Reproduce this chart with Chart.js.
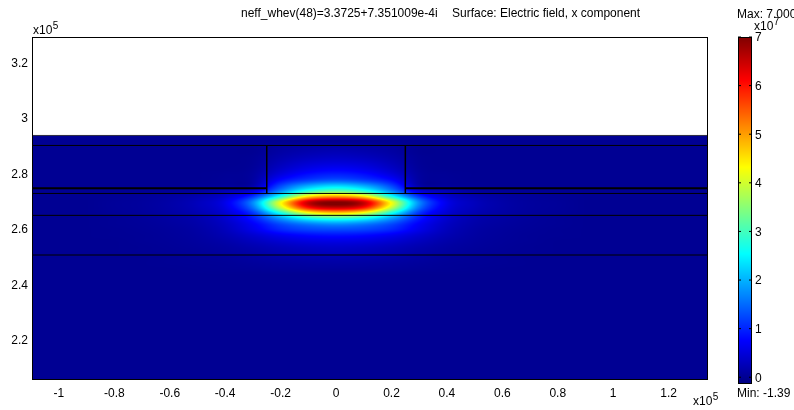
<!DOCTYPE html>
<html>
<head>
<meta charset="utf-8">
<script src="https://cdn.jsdelivr.net/npm/chart.js@4.4.0/dist/chart.umd.min.js"></script>
<style>
html, body { margin: 0; padding: 0; background: #fff; }
</style>
</head>
<body>
<canvas id="modeChart" width="794" height="410"></canvas>
<script>
// axes, in units of 1e5
var xTicks = [-1, -0.8, -0.6, -0.4, -0.2, 0, 0.2, 0.4, 0.6, 0.8, 1, 1.2];
var yTicks = [2.2, 2.4, 2.6, 2.8, 3, 3.2];
var xRange = [-1.097, 1.342];
var yRange = [2.062, 3.295];
var domainTop = 2.94;

// colour range, in units of 1e7
var colorMin = -0.139;
var colorMax = 7.0;
var colorTicks = [0, 1, 2, 3, 4, 5, 6, 7];

// geometry boundaries
var fullLinesY = [2.94, 2.904, 2.731, 2.652, 2.509];
var ridgeX = [-0.25, 0.25];
var ridgeTop = 2.904;
var ridgeBottom = 2.731;
var sideLayerY = 2.75;

// field samples (Ex / 1e7)
var fieldX = [-0.8, -0.7, -0.6, -0.5, -0.4, -0.3, -0.2, -0.1, 0, 0.1, 0.2, 0.3, 0.4, 0.5, 0.6, 0.7, 0.8];
var fieldY = [2.90, 2.88, 2.86, 2.84, 2.82, 2.80, 2.78, 2.76, 2.74, 2.72, 2.70, 2.68, 2.66, 2.64, 2.62, 2.60, 2.58, 2.56, 2.54, 2.52, 2.50, 2.48, 2.46];
var fieldRows = [
  [0, 0, 0, 0, 0, 0, 0.08, 0.12, 0.14, 0.12, 0.08, 0, 0, 0, 0, 0, 0],
  [0, 0, 0, 0, 0, 0, 0.12, 0.2, 0.24, 0.2, 0.12, 0, 0, 0, 0, 0, 0],
  [0, 0, 0, 0, 0, 0.02, 0.18, 0.3, 0.35, 0.3, 0.18, 0.02, 0, 0, 0, 0, 0],
  [0, 0, 0, 0, 0, 0.03, 0.26, 0.44, 0.5, 0.44, 0.26, 0.03, 0, 0, 0, 0, 0],
  [0, 0, 0, 0, 0, 0.05, 0.36, 0.6, 0.7, 0.6, 0.36, 0.05, 0, 0, 0, 0, 0],
  [0, 0, 0, 0, 0.02, 0.08, 0.52, 0.84, 0.96, 0.84, 0.52, 0.08, 0.02, 0, 0, 0, 0],
  [0, 0, 0, 0, 0.03, 0.1, 0.78, 1.15, 1.32, 1.15, 0.78, 0.1, 0.03, 0, 0, 0, 0],
  [0, 0, 0, 0.02, 0.05, 0.15, 1.2, 1.9, 2.2, 1.9, 1.2, 0.15, 0.05, 0.02, 0, 0, 0],
  [0.01, 0.02, 0.04, 0.08, 0.25, 0.5, 1.7, 2.8, 3.2, 2.8, 1.7, 0.5, 0.25, 0.08, 0.04, 0.02, 0.01],
  [0.02, 0.05, 0.1, 0.2, 0.42, 1.1, 2.7, 4.5, 5.0, 4.5, 2.7, 1.1, 0.42, 0.2, 0.1, 0.05, 0.02],
  [0.04, 0.07, 0.14, 0.28, 0.6, 1.7, 4.2, 6.45, 6.95, 6.45, 4.2, 1.7, 0.6, 0.28, 0.14, 0.07, 0.04],
  [0.04, 0.07, 0.14, 0.27, 0.56, 1.55, 3.9, 6.0, 6.5, 6.0, 3.9, 1.55, 0.56, 0.27, 0.14, 0.07, 0.04],
  [0.03, 0.06, 0.12, 0.22, 0.45, 1.1, 2.65, 4.1, 4.6, 4.1, 2.65, 1.1, 0.45, 0.22, 0.12, 0.06, 0.03],
  [0.02, 0.05, 0.1, 0.18, 0.4, 0.9, 1.8, 2.55, 2.8, 2.55, 1.8, 0.9, 0.4, 0.18, 0.1, 0.05, 0.02],
  [0.02, 0.04, 0.08, 0.15, 0.33, 0.7, 1.25, 1.6, 1.75, 1.6, 1.25, 0.7, 0.33, 0.15, 0.08, 0.04, 0.02],
  [0.01, 0.03, 0.06, 0.12, 0.28, 0.6, 1.0, 1.2, 1.25, 1.2, 1.0, 0.6, 0.28, 0.12, 0.06, 0.03, 0.01],
  [0.01, 0.02, 0.05, 0.1, 0.22, 0.42, 0.65, 0.8, 0.85, 0.8, 0.65, 0.42, 0.22, 0.1, 0.05, 0.02, 0.01],
  [0, 0.02, 0.04, 0.08, 0.16, 0.3, 0.45, 0.55, 0.58, 0.55, 0.45, 0.3, 0.16, 0.08, 0.04, 0.02, 0],
  [0, 0.01, 0.03, 0.06, 0.11, 0.2, 0.3, 0.37, 0.4, 0.37, 0.3, 0.2, 0.11, 0.06, 0.03, 0.01, 0],
  [0, 0.01, 0.02, 0.04, 0.08, 0.14, 0.22, 0.27, 0.3, 0.27, 0.22, 0.14, 0.08, 0.04, 0.02, 0.01, 0],
  [0, 0, 0.01, 0.03, 0.05, 0.1, 0.15, 0.18, 0.2, 0.18, 0.15, 0.1, 0.05, 0.03, 0.01, 0, 0],
  [0, 0, 0.01, 0.02, 0.03, 0.06, 0.09, 0.11, 0.12, 0.11, 0.09, 0.06, 0.03, 0.02, 0.01, 0, 0],
  [0, 0, 0, 0.01, 0.02, 0.03, 0.05, 0.06, 0.06, 0.06, 0.05, 0.03, 0.02, 0.01, 0, 0, 0]
];

var FONT = "'Liberation Sans', Arial, sans-serif";

function jet(t) {
  t = Math.max(0, Math.min(1, t));
  function c(v) { return Math.round(255 * Math.max(0, Math.min(1, v))); }
  return [c(1.5 - Math.abs(4 * t - 3)), c(1.5 - Math.abs(4 * t - 2)), c(1.5 - Math.abs(4 * t - 1))];
}

function sample(i, j) {
  if (j < 0 || j >= fieldY.length || i < 0 || i >= fieldX.length) return 0;
  return fieldRows[j][i];
}
function cr(p0, p1, p2, p3, t) {
  return 0.5 * (2 * p1 + (-p0 + p2) * t + (2 * p0 - 5 * p1 + 4 * p2 - p3) * t * t + (-p0 + 3 * p1 - 3 * p2 + p3) * t * t * t);
}
function fieldAt(x, y) {
  var dx = fieldX[1] - fieldX[0], dy = fieldY[1] - fieldY[0];
  var u = (x - fieldX[0]) / dx, w = (y - fieldY[0]) / dy;
  if (u < -1 || u > fieldX.length || w < -1 || w > fieldY.length) return 0;
  var i = Math.floor(u), j = Math.floor(w), tu = u - i, tw = w - j;
  var r = [];
  for (var m = -1; m <= 2; m++) {
    r.push(cr(sample(i - 1, j + m), sample(i, j + m), sample(i + 1, j + m), sample(i + 2, j + m), tu));
  }
  return cr(r[0], r[1], r[2], r[3], tw);
}

var fieldPlugin = {
  id: 'field',
  beforeDatasetsDraw: function(chart) {
    var ctx = chart.ctx, xs = chart.scales.x, ys = chart.scales.y;
    var left = Math.round(xs.getPixelForValue(xRange[0]));
    var right = Math.round(xs.getPixelForValue(xRange[1]));
    var top = Math.round(ys.getPixelForValue(domainTop));
    var bottom = Math.round(ys.getPixelForValue(yRange[0]));
    var w = right - left, h = bottom - top;
    var off = document.createElement('canvas');
    off.width = w; off.height = h;
    var octx = off.getContext('2d');
    var img = octx.createImageData(w, h);
    for (var py = 0; py < h; py++) {
      var yv = ys.getValueForPixel(top + py + 0.5);
      for (var px = 0; px < w; px++) {
        var xv = xs.getValueForPixel(left + px + 0.5);
        var v = fieldAt(xv, yv);
        var c = jet((v - colorMin) / (colorMax - colorMin));
        var k = (py * w + px) * 4;
        img.data[k] = c[0]; img.data[k + 1] = c[1]; img.data[k + 2] = c[2]; img.data[k + 3] = 255;
      }
    }
    octx.putImageData(img, 0, 0);
    ctx.drawImage(off, left, top);
  }
};

function drawSup(ctx, base, sup, x, y) {
  ctx.font = '12px ' + FONT;
  ctx.fillText(base, x, y);
  var bw = ctx.measureText(base).width;
  ctx.font = '10px ' + FONT;
  ctx.fillText(sup, x + bw + 0.5, y - 5);
}

var decorPlugin = {
  id: 'decor',
  afterDraw: function(chart) {
    var ctx = chart.ctx, ca = chart.chartArea;
    ctx.save();
    // frame
    ctx.strokeStyle = '#000';
    ctx.lineWidth = 1;
    ctx.strokeRect(ca.left + 0.5, ca.top + 0.5, ca.right - ca.left - 1, ca.bottom - ca.top);

    // colour bar
    var cbL = 738, cbW = 14, cbT = 37, cbB = 384, cbH = cbB - cbT;
    for (var py = 0; py < cbH; py++) {
      var v = colorMax - (py + 0.5) / cbH * (colorMax - colorMin);
      var c = jet((v - colorMin) / (colorMax - colorMin));
      ctx.fillStyle = 'rgb(' + c[0] + ',' + c[1] + ',' + c[2] + ')';
      ctx.fillRect(cbL, cbT + py, cbW, 1);
    }
    ctx.strokeRect(cbL + 0.5, cbT + 0.5, cbW - 1, cbH - 1);
    ctx.fillStyle = '#000';
    ctx.font = '12px ' + FONT;
    ctx.textAlign = 'left';
    ctx.textBaseline = 'middle';
    colorTicks.forEach(function(t) {
      var y = cbB - (t - colorMin) / (colorMax - colorMin) * cbH;
      ctx.beginPath();
      ctx.moveTo(cbL, y); ctx.lineTo(cbL + 3, y);
      ctx.moveTo(cbL + cbW, y); ctx.lineTo(cbL + cbW - 3, y);
      ctx.stroke();
      ctx.fillText(String(t), 755, y + 1);
    });

    // texts
    ctx.textBaseline = 'alphabetic';
    ctx.font = '12px ' + FONT;
    ctx.fillText('neff_whev(48)=3.3725+7.351009e-4i', 241, 17);
    ctx.fillText('Surface: Electric field, x component', 452, 17);
    ctx.fillText('Max: 7.000', 737, 18);
    ctx.fillText('Min: -1.39', 737, 397);
    drawSup(ctx, 'x10', '7', 754, 30);
    drawSup(ctx, 'x10', '5', 33, 34);
    drawSup(ctx, 'x10', '5', 693, 405);
    ctx.restore();
  }
};

// boundary segments built from the geometry arrays
var segments = [];
fullLinesY.forEach(function(y, i) {
  segments.push({ pts: [{ x: xRange[0], y: y }, { x: xRange[1], y: y }], w: 1, col: i === 0 ? '#333344' : '#000' });
});
ridgeX.forEach(function(x) {
  segments.push({ pts: [{ x: x, y: ridgeTop }, { x: x, y: ridgeBottom }], w: 1.5, col: '#000' });
});
segments.push({ pts: [{ x: xRange[0], y: sideLayerY }, { x: ridgeX[0], y: sideLayerY }], w: 2, col: '#000' });
segments.push({ pts: [{ x: ridgeX[1], y: sideLayerY }, { x: xRange[1], y: sideLayerY }], w: 2, col: '#000' });

var datasets = segments.map(function(s) {
  return {
    data: s.pts,
    showLine: true,
    borderColor: s.col,
    borderWidth: s.w,
    pointRadius: 0,
    fill: false
  };
});

function fmt(v) {
  return String(Math.round(v * 10) / 10);
}

var ctx = document.getElementById('modeChart').getContext('2d');
var modeChart = new Chart(ctx, {
  type: 'scatter',
  data: { datasets: datasets },
  plugins: [fieldPlugin, decorPlugin],
  options: {
    responsive: false,
    animation: false,
    layout: { padding: { top: 37, right: 86, left: 0, bottom: 0 } },
    plugins: {
      legend: { display: false },
      tooltip: { enabled: false },
      title: { display: false }
    },
    scales: {
      x: {
        type: 'linear',
        min: xRange[0],
        max: xRange[1],
        grid: { display: false, drawTicks: false, tickLength: 0 },
        border: { display: false },
        ticks: {
          color: '#000',
          font: { family: FONT, size: 12 },
          padding: 7,
          maxRotation: 0,
          autoSkip: false,
          callback: fmt
        },
        afterBuildTicks: function(scale) {
          scale.ticks = xTicks.map(function(v) { return { value: v }; });
        },
        afterFit: function(scale) { scale.height = 31; }
      },
      y: {
        type: 'linear',
        min: yRange[0],
        max: yRange[1],
        grid: { display: false, drawTicks: false, tickLength: 0 },
        border: { display: false },
        ticks: {
          color: '#000',
          font: { family: FONT, size: 12 },
          padding: 4,
          autoSkip: false,
          callback: fmt
        },
        afterBuildTicks: function(scale) {
          scale.ticks = yTicks.map(function(v) { return { value: v }; });
        },
        afterFit: function(scale) { scale.width = 32; }
      }
    }
  }
});
</script>
</body>
</html>
